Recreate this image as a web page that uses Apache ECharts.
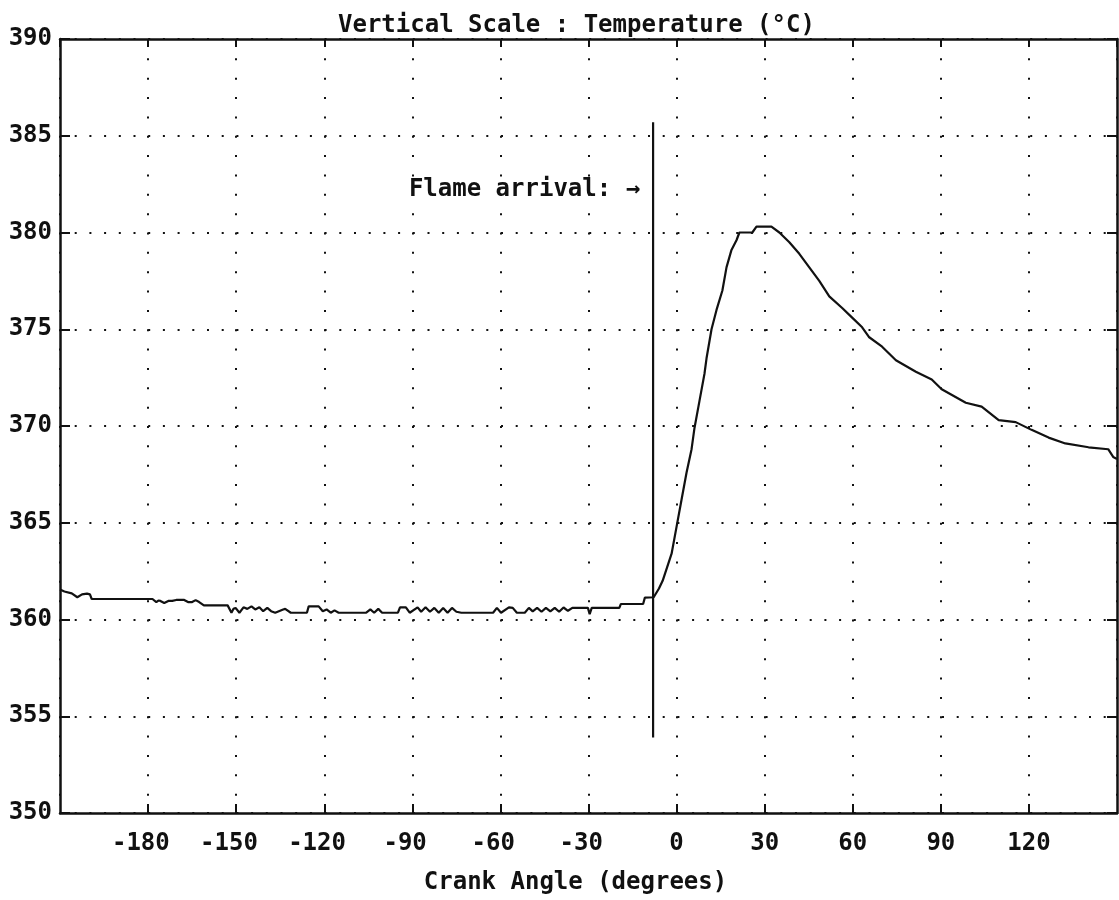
<!DOCTYPE html>
<html>
<head>
<meta charset="utf-8">
<script src="https://cdn.jsdelivr.net/npm/echarts@6/dist/echarts.min.js"></script>
<style>html,body{margin:0;padding:0;background:#fff}#c{width:1119px;height:900px}</style>
</head>
<body>
<div id="c"></div>
<script>
// ---- Data ----
const chartTitle = 'Vertical Scale : Temperature (°C)';
const xAxisName = 'Crank Angle (degrees)';
const flameText = 'Flame arrival: →';

const xMin = -210, xMax = 150, xStep = 30;
const yMin = 350, yMax = 390, yStep = 5;

const crankAngle = [
  -210, -208.5, -206, -204.1, -202.5, -200.8, -199.8, -199.2, -178.5, -177.2,
  -176.5, -175.8, -174.5, -173.1, -171.8, -170.4, -167.7, -166.4, -165.0, -163.8,
  -162.6, -161.0, -152.9, -151.6, -150.9, -150.2, -148.9, -147.5, -146.2, -144.8,
  -143.5, -142.1, -140.8, -139.4, -138.1, -136.7, -134.0, -133.3, -132.7, -131.4,
  -125.9, -125.3, -121.9, -120.5, -119.2, -117.8, -116.5, -115.1, -105.7, -104.3,
  -103.0, -101.6, -100.3, -94.9, -94.2, -92.2, -90.9, -88.2, -87, -85.5,
  -84, -82.5, -81, -79.5, -78, -76.5, -75, -73.3, -62.5, -61.2,
  -59.8, -57.1, -55.8, -54.4, -51.7, -50.3, -49, -47.5, -46, -44.5,
  -43, -41.5, -40, -38.5, -37, -35.5, -34.3, -30.2, -29.6, -28.9,
  -19.5, -19.0, -11.4, -10.8, -7.8, -6, -4.75, -1.7, 0, 1.7,
  3.4, 5.1, 6.1, 7.8, 9.5, 10.2, 11.9, 13.6, 15.6, 17.0,
  18.7, 20.4, 21.4, 25.8, 27.2, 32.3, 35.0, 38.4, 41.8, 45.2,
  48.6, 52.0, 56.4, 59.8, 63.2, 65.5, 70.0, 74.7, 81.5, 86.9,
  90.3, 98.5, 103.9, 109.7, 115.5, 120.9, 126.7, 132.4, 140.3, 147.0,
  148.7, 150
];
const temperature = [
  361.55, 361.45, 361.35, 361.15, 361.3, 361.34, 361.3, 361.06, 361.06, 360.9,
  360.98, 360.96, 360.85, 360.96, 360.96, 361.01, 361.01, 360.9, 360.9, 361.0,
  360.9, 360.73, 360.73, 360.35, 360.55, 360.6, 360.35, 360.63, 360.55, 360.68,
  360.52, 360.63, 360.43, 360.6, 360.43, 360.35, 360.52, 360.55, 360.45, 360.35,
  360.35, 360.68, 360.68, 360.43, 360.52, 360.35, 360.47, 360.35, 360.35, 360.52,
  360.35, 360.55, 360.35, 360.35, 360.63, 360.63, 360.35, 360.63, 360.4, 360.63,
  360.4, 360.6, 360.35, 360.6, 360.35, 360.6, 360.4, 360.35, 360.35, 360.6,
  360.35, 360.63, 360.6, 360.35, 360.35, 360.6, 360.42, 360.6, 360.4, 360.6,
  360.42, 360.6, 360.4, 360.62, 360.45, 360.6, 360.6, 360.6, 360.27, 360.6,
  360.6, 360.8, 360.8, 361.13, 361.15, 361.6, 362.0, 363.4, 364.8, 366.2,
  367.6, 368.8, 369.9, 371.3, 372.7, 373.5, 375.0, 376.0, 377.0, 378.2,
  379.1, 379.6, 380.0, 380.0, 380.3, 380.3, 380.0, 379.5, 378.9, 378.2,
  377.5, 376.7, 376.1, 375.6, 375.1, 374.6, 374.1, 373.4, 372.8, 372.4,
  371.9, 371.2, 371.0, 370.3, 370.2, 369.8, 369.4, 369.1, 368.9, 368.8,
  368.4, 368.3
];

const flameAngle = -8;
const flameTemps = [385.7, 353.9];
const flameLabelTemp = 382.2;

// ---- Chart ----
const FONT = '"DejaVu Sans Mono", "Liberation Mono", monospace';
const INK = '#111';
const WEIGHT = 'bold';
const curve = crankAngle.map((a, i) => [a, temperature[i]]);
const flameLine = flameTemps.map(t => [flameAngle, t]);

const chart = echarts.init(document.getElementById('c'), null, {renderer: 'canvas'});
chart.setOption({
  backgroundColor: '#fff',
  animation: false,
  title: {
    text: chartTitle,
    left: 333, top: 9,
    textStyle: {fontFamily: FONT, fontSize: 24, fontWeight: WEIGHT, color: INK}
  },
  grid: {left: 60, right: 2, top: 39, bottom: 87, containLabel: false},
  xAxis: [{
    type: 'value', min: xMin, max: xMax, interval: xStep, position: 'bottom',
    name: xAxisName, nameLocation: 'middle', nameGap: 58,
    nameTextStyle: {fontFamily: FONT, fontSize: 24, fontWeight: WEIGHT, color: INK, padding: [0, 26, 0, 0]},
    axisLine: {show: true, onZero: false, lineStyle: {color: INK, width: 2.5}},
    axisTick: {show: true, inside: true, length: 9, lineStyle: {color: INK, width: 2}},
    axisLabel: {
      showMinLabel: false, showMaxLabel: false, margin: 19,
      fontFamily: FONT, fontSize: 24, fontWeight: WEIGHT, color: INK,
      formatter: v => (v < 0 ? '-' + Math.abs(v) + ' ' : String(v))
    },
    splitLine: {show: true, lineStyle: {color: INK, width: 2, type: [2, 17.35]}}
  }, {
    type: 'value', min: xMin, max: xMax, interval: xStep, position: 'top',
    axisLine: {show: true, onZero: false, lineStyle: {color: INK, width: 2.5}},
    axisTick: {show: true, inside: true, length: 8, lineStyle: {color: INK, width: 2}},
    axisLabel: {show: false},
    splitLine: {show: false}
  }],
  yAxis: [{
    type: 'value', min: yMin, max: yMax, interval: yStep, position: 'left',
    axisLine: {show: true, onZero: false, lineStyle: {color: INK, width: 2.5}},
    axisTick: {show: true, inside: true, length: 10, lineStyle: {color: INK, width: 2}},
    axisLabel: {margin: 8, fontFamily: FONT, fontSize: 24, fontWeight: WEIGHT, color: INK},
    splitLine: {show: true, lineStyle: {color: INK, width: 2, type: [2, 12.7]}}
  }, {
    type: 'value', min: yMin, max: yMax, interval: yStep, position: 'right',
    axisLine: {show: true, onZero: false, lineStyle: {color: INK, width: 2.5}},
    axisTick: {show: true, inside: true, length: 10, lineStyle: {color: INK, width: 2}},
    axisLabel: {show: false},
    splitLine: {show: false}
  }],
  series: [{
    name: 'Temperature', type: 'line', data: curve,
    showSymbol: false, symbol: 'none', smooth: false,
    lineStyle: {color: INK, width: 2.2}, z: 5
  }, {
    name: 'Flame arrival', type: 'line', data: flameLine,
    showSymbol: false, symbol: 'none',
    lineStyle: {color: INK, width: 2.2}, z: 6,
    markPoint: {
      symbol: 'circle', symbolSize: 0, silent: true,
      data: [{coord: [flameAngle, flameLabelTemp]}],
      label: {
        show: true, position: 'left', distance: 13,
        formatter: flameText,
        fontFamily: FONT, fontSize: 24, fontWeight: WEIGHT, color: INK
      }
    }
  }]
});
</script>
</body>
</html>
